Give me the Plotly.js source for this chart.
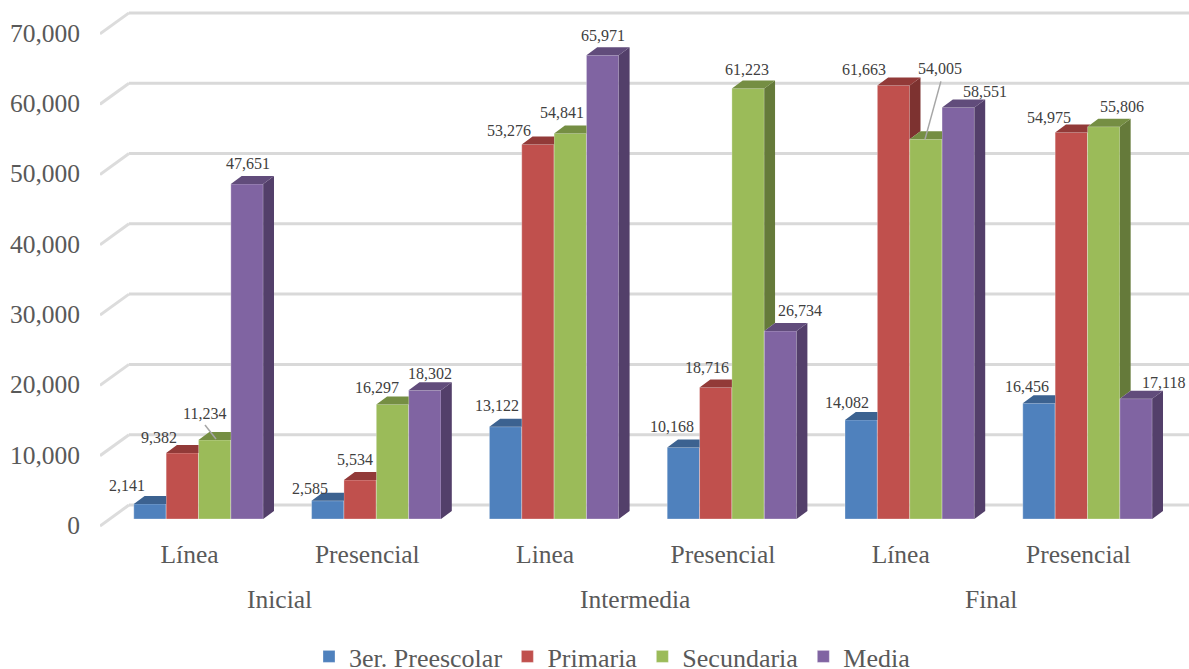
<!DOCTYPE html>
<html>
<head>
<meta charset="utf-8">
<script src="https://cdn.plot.ly/plotly-3.0.1.min.js"></script>
<style>html,body{margin:0;padding:0;background:#fff;overflow:hidden}</style>
</head>
<body>
<div id="chart" style="width:1189px;height:669px"></div>
<script>
// ---- data ----
const categories = ['Línea','Presencial','Linea','Presencial','Línea','Presencial'];
const groupNames = ['Inicial','Intermedia','Final'];
const seriesNames = ['3er. Preescolar','Primaria','Secundaria','Media'];
const preescolar = [2141,2585,13122,10168,14082,16456];
const primaria   = [9382,5534,53276,18716,61663,54975];
const secundaria = [11234,16297,54841,61223,54005,55806];
const media      = [47651,18302,65971,26734,58551,17118];
const yTicks = [0,10000,20000,30000,40000,50000,60000,70000];

// ---- styles ----
const frontColors = ['#4F81BD','#C0504D','#9BBB59','#8064A2'];
const topColors   = ['#3C6290','#923A38','#758E43','#614C7B'];
const sideColors  = ['#335379','#7D3230','#657A3A','#533F6A'];
const FONT = '"Liberation Serif", serif';

// ---- pixel scale of the drawing (px per data unit) ----
const PX_X = 177.8, PX_Y = 0.00703;
const dX = px => px / PX_X, dY = px => px / PX_Y;
const GROUP_W = 129.4, BAR_W = GROUP_W / 4;
const DEPTH_X = 10.8, DEPTH_Y = 8;
const WALL_X = 29, WALL_Y_BACK = 14, WALL_Y_FRONT = -7;

// label offsets from the top-centre of each bar, in px [series][category]
const labelDx = [
  [-23,-18,-8.6,-11,-14,-12],
  [-23,-5,-29,-8.7,-30,-22],
  [-10,-15.5,-8,-1,14,18],
  [1,5,0,20,27,27]];
const labelUp = [
  [18,12,21,21.5,18,17],
  [16,21,13.5,20,16.5,15.5],
  [27,17,20.5,19.6,71,20],
  [21,17,20,21,16,16]];

const values = [preescolar, primaria, secundaria, media];
const barCentre = (s, c) => c + dX((s - 1.5) * BAR_W);

// 3D faces, built from the values
function faces(s) {
  const sx = [], sy = [], tx = [], ty = [];
  values[s].forEach((v, c) => {
    const L = barCentre(s, c) - dX(BAR_W / 2), R = barCentre(s, c) + dX(BAR_W / 2);
    const next = s < 3 ? values[s + 1][c] : null;
    const ddx = dX(DEPTH_X), ddy = dY(DEPTH_Y);
    // top face
    let diffPx = next === null ? -1 : (next - v) * PX_Y;
    if (diffPx > 0) {
      const d = Math.min(diffPx, DEPTH_Y);
      const xb = R + dX((DEPTH_Y - d) * DEPTH_X / DEPTH_Y);
      tx.push(L, L + ddx, xb, R, R, L, null);
      ty.push(v, v + ddy, v + ddy, v + dY(d), v, v, null);
    } else {
      tx.push(L, L + ddx, R + ddx, R, L, null);
      ty.push(v, v + ddy, v + ddy, v, v, null);
    }
    // side face
    if (next === null) {
      sx.push(R, R + ddx, R + ddx, R, R, null);
      sy.push(0, ddy, v + ddy, v, 0, null);
    } else if (next < v) {
      sx.push(R, R + ddx, R + ddx, R, R, null);
      sy.push(next, next + ddy, v + ddy, v, next, null);
    }
  });
  return {sx, sy, tx, ty};
}

const traces = [];
seriesNames.forEach((name, s) => {
  traces.push({
    type: 'bar', name, x: categories.map((_, i) => i), y: values[s],
    marker: {color: frontColors[s], line: {color: 'rgba(255,255,255,0.3)', width: 1}},
    hoverinfo: 'skip'
  });
});
seriesNames.forEach((name, s) => {
  const f = faces(s);
  traces.push({type:'scatter', mode:'lines', x:f.sx, y:f.sy, fill:'toself', fillcolor:sideColors[s],
    line:{width:0}, showlegend:false, hoverinfo:'skip'});
  traces.push({type:'scatter', mode:'lines', x:f.tx, y:f.ty, fill:'toself', fillcolor:topColors[s],
    line:{width:0}, showlegend:false, hoverinfo:'skip'});
});

// leader lines of the two displaced labels
[[2,0,[1.3,1],[-9.7,15]], [2,4,[-0.9,0],[15,58]]].forEach(([s,c,a,b]) => {
  const x0 = barCentre(s,c), y0 = values[s][c];
  traces.push({type:'scatter', mode:'lines', x:[x0+dX(a[0]), x0+dX(b[0])], y:[y0+dY(a[1]), y0+dY(b[1])],
    line:{color:'#a6a6a6', width:1.5}, showlegend:false, hoverinfo:'skip'});
});

// wall gridlines and their side-wall returns
const X_MIN = -98.5/PX_X, X_MAX = (1189-198.5)/PX_X;
const wallX = X_MIN + dX(WALL_X);
const shapes = [];
yTicks.forEach(v => {
  const back = v + dY(WALL_Y_BACK), front = v + dY(WALL_Y_FRONT);
  shapes.push({type:'line', layer:'below', xref:'x', yref:'y', x0:wallX, x1:X_MAX, y0:back, y1:back,
    line:{color:'#d9d9d9', width:3}});
  shapes.push({type:'line', layer:'below', xref:'x', yref:'y', x0:X_MIN, x1:wallX, y0:front, y1:back,
    line:{color:'#dcdcdc', width:3}});
});

// value labels
const annotations = [];
values.forEach((arr, s) => arr.forEach((v, c) => {
  annotations.push({
    x: barCentre(s,c), y: v, xref:'x', yref:'y', showarrow:false,
    xshift: labelDx[s][c], yshift: labelUp[s][c], xanchor:'center', yanchor:'middle',
    text: v.toLocaleString('en-US'), font:{family:FONT, size:16, color:'#404040'}
  });
}));
// outer category level
groupNames.forEach((g, i) => {
  annotations.push({
    x: 2*i + 0.5, xref:'x', xshift:-8, y:-0.133, yref:'paper', showarrow:false,
    xanchor:'center', yanchor:'middle', text:g, font:{family:FONT, size:25.5, color:'#595959'}
  });
});

const layout = {
  width:1189, height:669,
  margin:{l:100, r:0, t:5, b:139},
  paper_bgcolor:'#fff', plot_bgcolor:'#fff',
  barmode:'group', bargap:1-GROUP_W/PX_X, bargroupgap:0,
  hovermode:false,
  font:{family:FONT, color:'#595959'},
  xaxis:{range:[X_MIN, X_MAX], tickmode:'array', tickvals:categories.map((_,i)=>i), ticktext:categories,
    showgrid:false, zeroline:false, showline:false, ticks:'',
    tickfont:{family:FONT, size:25.5, color:'#595959'}, ticklabelshift:-9, ticklabelstandoff:6},
  yaxis:{range:[dY(519-530), dY(519-5)], tickmode:'array', tickvals:yTicks, tickformat:',d',
    showgrid:false, zeroline:false, showline:false, ticks:'',
    tickfont:{family:FONT, size:25.5, color:'#595959'}, ticklabelshift:6, ticklabelstandoff:19},
  legend:{orientation:'h', xref:'container', yref:'container', x:(331-22)/1189, y:(669-633)/669,
    xanchor:'left', yanchor:'top', font:{family:FONT, size:26, color:'#595959'}, traceorder:'normal'},
  shapes, annotations
};
Plotly.newPlot('chart', traces, layout, {displayModeBar:false, staticPlot:true});
</script>
</body>
</html>
